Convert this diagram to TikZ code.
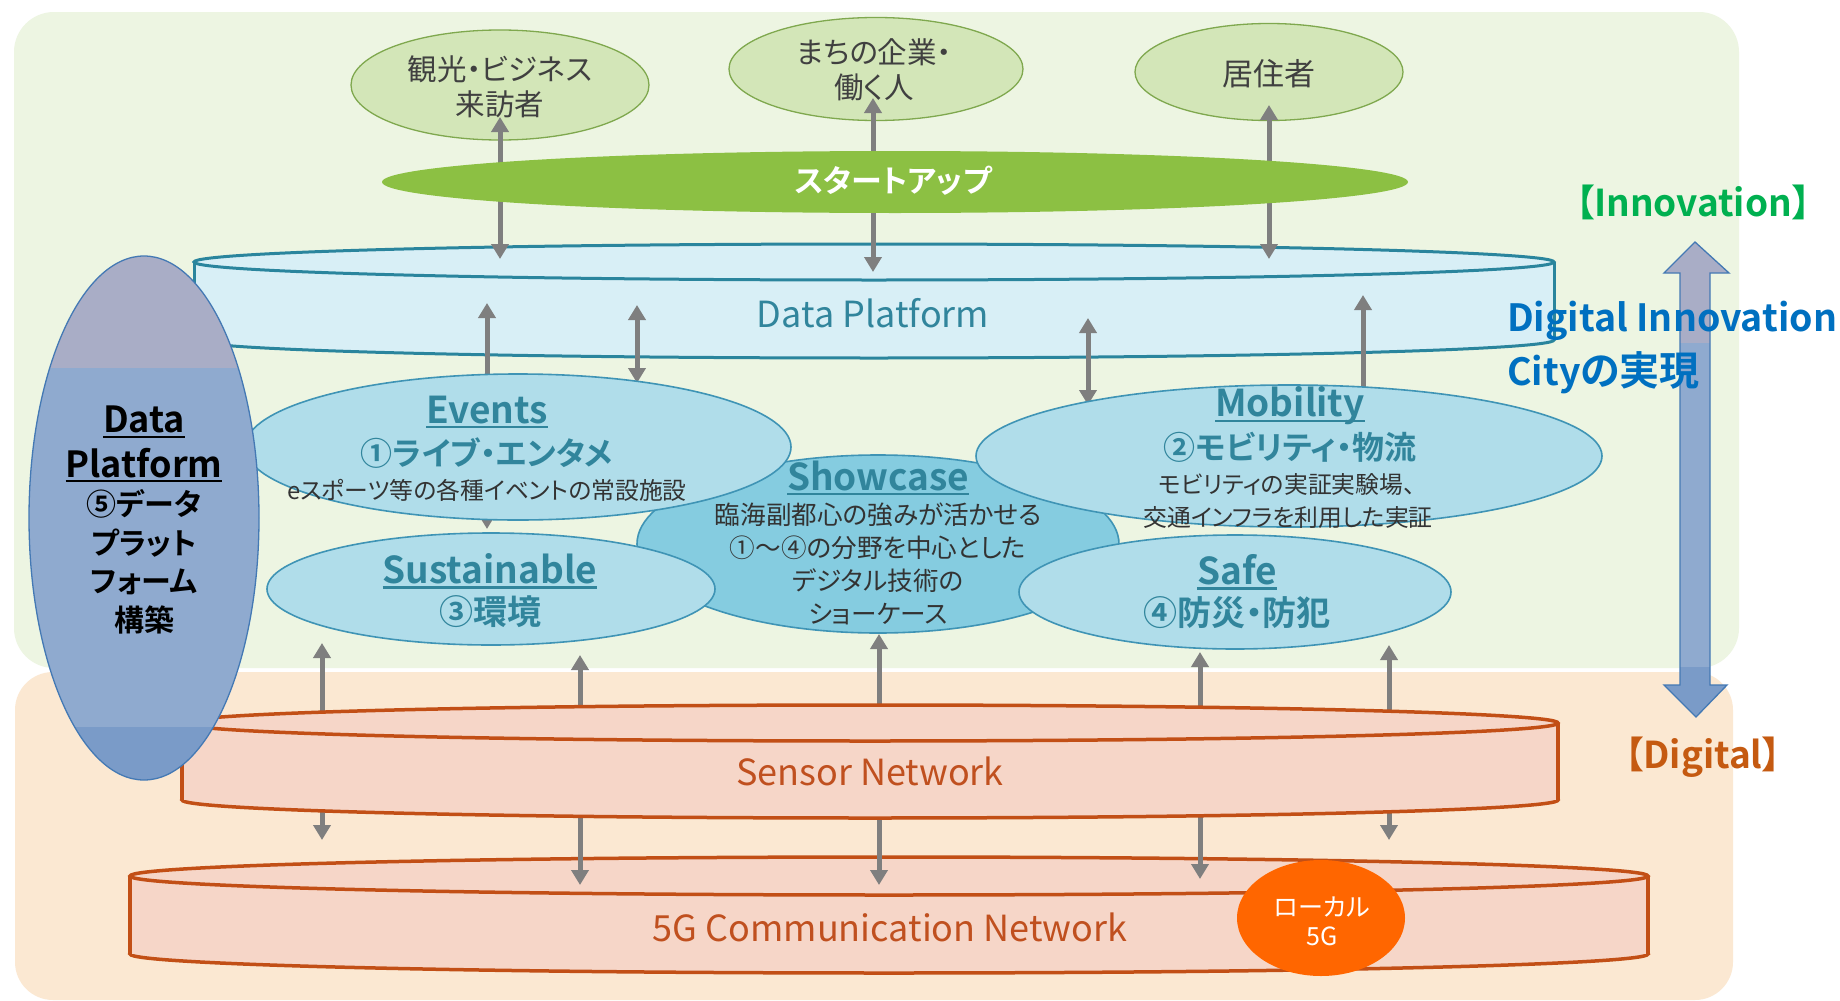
\documentclass[tikz,border=0pt]{standalone}
\usepackage{fontspec}
\setmainfont{Noto Sans CJK JP}[RawFeature=+palt, BoldFont={* Bold}]
\usetikzlibrary{arrows.meta,shapes.geometric}
\definecolor{greenbg}{HTML}{EDF5E2}
\definecolor{orangebg}{HTML}{FBE8D2}
\definecolor{userfill}{HTML}{D3E6B8}
\definecolor{userline}{HTML}{7FA84E}
\definecolor{usertext}{HTML}{404040}
\definecolor{startgreen}{HTML}{8CC043}
\definecolor{dpfill}{HTML}{D8EFF6}
\definecolor{dpline}{HTML}{2A859D}
\definecolor{dptext}{HTML}{31859C}
\definecolor{midfill}{HTML}{B0DDEA}
\definecolor{showfill}{HTML}{85CCE0}
\definecolor{midline}{HTML}{3F94B5}
\definecolor{sensfill}{HTML}{F6D6C8}
\definecolor{sensline}{HTML}{C24F16}
\definecolor{senstext}{HTML}{C0501F}
\definecolor{localor}{HTML}{FF6600}
\definecolor{agray}{HTML}{7F7F7F}
\definecolor{lavband}{HTML}{A9ADC6}
\definecolor{bluemid}{HTML}{8FAACF}
\definecolor{bluedark}{HTML}{7A9BC8}
\definecolor{blueline}{HTML}{4479B4}
\definecolor{innovgreen}{HTML}{00B050}
\definecolor{digblue}{HTML}{0070C0}
\definecolor{digorange}{HTML}{C55A11}
\definecolor{darktext}{HTML}{333333}
\newcommand\fs[1]{\fontsize{#1pt}{#1pt}\selectfont}
\newcommand\myul[1]{\setbox0=\hbox{#1}\rlap{\rule[-5pt]{\wd0}{2.2pt}}\box0}
% cylinder: cx, top y, bottom y, rx, ry, fill, line, width
\newcommand\mycyl[8]{%
  \draw[fill=#6, draw=#7, line width=#8] (#1,#3) ellipse [x radius=#4, y radius=#5];
  \fill[#6] (#1-#4,#2) rectangle (#1+#4,#3);
  \draw[draw=#7, line width=#8] (#1-#4,#2) -- (#1-#4,#3) (#1+#4,#2) -- (#1+#4,#3);
  \draw[fill=#6, draw=#7, line width=#8] (#1,#2) ellipse [x radius=#4, y radius=#5];
}
\begin{document}
\begin{tikzpicture}[x=1pt,y=-1pt,
  user/.style={ellipse, draw=userline, fill=userfill, line width=1.3pt, inner sep=0pt},
  midell/.style={ellipse, draw=midline, fill=midfill, line width=1.6pt, inner sep=0pt},
  conn/.style={draw=agray, line width=5pt, {Triangle[width=17pt,length=15pt]}-{Triangle[width=17pt,length=15pt]}},
  connup/.style={draw=agray, line width=5pt, {Triangle[width=17pt,length=15pt]}-},
  txt/.style={inner sep=0pt, align=center},
  ttl/.style={txt, text=dptext, font=\fs{37}\bfseries},
  sub/.style={txt, text=dptext, font=\fs{32}\bfseries},
  subk/.style={txt, text=dptext, font=\fs{34}\bfseries},
  desc/.style={txt, text=darktext, font=\fs{23.8}},
]
\useasboundingbox (0,0) rectangle (1840,1001);
\fill[white] (0,0) rectangle (1840,1001);
% backgrounds
\fill[greenbg, rounded corners=40pt] (14,12) rectangle (1739,668);
\fill[orangebg, rounded corners=38pt] (15,672) rectangle (1733,1000);

% 5G cylinder
\mycyl{889}{876}{954}{759}{19}{sensfill}{sensline}{3.5pt}
\node[txt, text=senstext, font=\fs{36}] (t5g) at (890,927) {5G Communication Network};
\node[ellipse, fill=localor, minimum width=168pt, minimum height=116pt, inner sep=0pt] (loc) at (1321,918) {};
\node[txt, text=white, font=\fs{25}] (tloc) at (1322,921) {ローカル\\[4pt]5G};

% lower connectors (behind sensor cylinder)
\foreach \n/\x/\ya/\yb in {c1/322/643/840, c2/580/655/885, c3/879/634/885, c4/1200/652/879, c5/1389/645/840}{
  \coordinate (\n t) at (\x,\ya);
  \coordinate (\n b) at (\x,\yb);
  \draw[conn] (\n t) -- (\n b);
}

% sensor cylinder
\mycyl{870}{723}{800}{688}{18}{sensfill}{sensline}{3.5pt}
\node[txt, text=senstext, font=\fs{36}] (tsens) at (870,771) {Sensor Network};

% data platform cylinder
\mycyl{874}{262}{340}{680}{18}{dpfill}{dpline}{3pt}
\node[txt, text=dptext, font=\fs{36}] (tdp) at (873,313) {Data Platform};

% user ellipses
\node[user, minimum width=298pt, minimum height=110pt] (u1) at (500,85) {};
\node[user, minimum width=294pt, minimum height=103pt] (u2) at (876,69) {};
\node[user, minimum width=268pt, minimum height=97pt] (u3) at (1269,72) {};
\node[txt, text=usertext, font=\fs{29.5}] (tu1) at (500,87) {観光・ビジネス\\[5pt]来訪者};
\node[txt, text=usertext, font=\fs{29.5}] (tu2) at (874,70) {まちの企業・\\[5pt]働く人};
\node[txt, text=usertext, font=\fs{31}] (tu3) at (1269,74) {居住者};

% upper connectors
\foreach \n/\x/\ya/\yb in {a1/500/117/259, a2/873/98/272, a3/1269/105/259, b1/487/303/529, b2/637/305/383, b3/1088/318/405}{
  \coordinate (\n t) at (\x,\ya);
  \coordinate (\n b) at (\x,\yb);
  \draw[conn] (\n t) -- (\n b);
}
\coordinate (b4t) at (1363,295);
\coordinate (b4b) at (1363,420);
\draw[connup] (b4t) -- (b4b);

% startup
\node[ellipse, fill=startgreen, minimum width=1026pt, minimum height=62pt, inner sep=0pt] (su) at (895,182) {};
\node[txt, text=white, font=\fs{31}\bfseries] (tsu) at (893,181) {スタートアップ};

% middle ellipses
\node[midell, fill=showfill, minimum width=482pt, minimum height=178pt] (sc) at (878,544) {};
\node[midell, minimum width=546pt, minimum height=146pt] (ev) at (518,447) {};
\node[midell, minimum width=626pt, minimum height=142pt] (mo) at (1289,456) {};
\node[midell, minimum width=448pt, minimum height=112pt] (su2) at (491,589) {};
\node[midell, minimum width=432pt, minimum height=114pt] (sf) at (1235,592) {};

% showcase text
\node[ttl] (tsc) at (878,478) {\myul{Showcase}};
\node[desc, font=\fs{25.6}] (tsc1) at (878,515) {臨海副都心の強みが活かせる};
\node[desc, font=\fs{25.6}] (tsc2) at (878,548) {①～④の分野を中心とした};
\node[desc, font=\fs{25.6}] (tsc3) at (878,581) {デジタル技術の};
\node[desc, font=\fs{25.6}] (tsc4) at (878,614) {ショーケース};
% events text
\node[ttl] (tev) at (487,412) {\myul{Events}};
\node[sub] (tev1) at (487,453) {①ライブ・エンタメ};
\node[desc] (tev2) at (487,490) {eスポーツ等の各種イベントの常設施設};
% mobility text
\node[ttl] (tmo) at (1290,406) {\myul{Mobility}};
\node[sub] (tmo1) at (1290,447) {②モビリティ・物流};
\node[desc] (tmo2) at (1287,484) {モビリティの実証実験場、};
\node[desc] (tmo3) at (1288,517) {交通インフラを利用した実証};
% sustainable text
\node[ttl] (tsu2) at (490,571) {\myul{Sustainable}};
\node[subk] (tsu3) at (490,612) {③環境};
% safe text
\node[ttl] (tsf) at (1237,572) {\myul{Safe}};
\node[subk] (tsf1) at (1237,613) {④防災・防犯};

% left data platform ellipse
\begin{scope}
  \clip (144,518) ellipse [x radius=115, y radius=262];
  \fill[lavband] (20,250) rectangle (270,368);
  \fill[bluemid] (20,368) rectangle (270,727);
  \fill[bluedark] (20,727) rectangle (270,790);
\end{scope}
\node[ellipse, draw=blueline, line width=1.3pt, minimum width=230pt, minimum height=524pt, inner sep=0pt] (dpl) at (144,518) {};
\node[txt, font=\fs{36}\bfseries] (tdpl1) at (144,422) {\myul{Data}};
\node[txt, font=\fs{36}\bfseries] (tdpl2) at (144,465) {\myul{Platform}};
\node[txt, font=\fs{30}\bfseries] (tdpl3) at (144,504) {⑤データ};
\node[txt, font=\fs{30}\bfseries] (tdpl4) at (144,543) {プラット};
\node[txt, font=\fs{30}\bfseries] (tdpl5) at (144,582) {フォーム};
\node[txt, font=\fs{30}\bfseries] (tdpl6) at (144,620) {構築};

% innovation / digital arrow
\begin{scope}
  \path[clip] (1695,242) -- (1729,273) -- (1710,273) -- (1710,685) -- (1727,685) -- (1696,717) -- (1664,685) -- (1680,685) -- (1680,273) -- (1664,273) -- cycle;
  \fill[lavband] (1650,230) rectangle (1740,343);
  \fill[bluemid] (1650,343) rectangle (1740,667);
  \fill[bluedark] (1650,667) rectangle (1740,730);
\end{scope}
\draw[blueline, line width=1.3pt, line join=miter] (1695,242) -- (1729,273) -- (1710,273) -- (1710,685) -- (1727,685) -- (1696,717) -- (1664,685) -- (1680,685) -- (1680,273) -- (1664,273) -- cycle;

\node[txt, text=innovgreen, font=\fs{37}\bfseries] (tinn) at (1693,202) {【Innovation】};
\node[txt, anchor=west, text=digblue, font=\fs{37.5}\bfseries] (tdig1) at (1507,321) {Digital Innovation};
\node[txt, anchor=west, text=digblue, font=\fs{37.5}\bfseries] (tdig2) at (1507,373) {City\fs{40}の実現};
\node[txt, text=digorange, font=\fs{37}\bfseries] (tdig) at (1703,757) {【Digital】};
\end{tikzpicture}
\end{document}
